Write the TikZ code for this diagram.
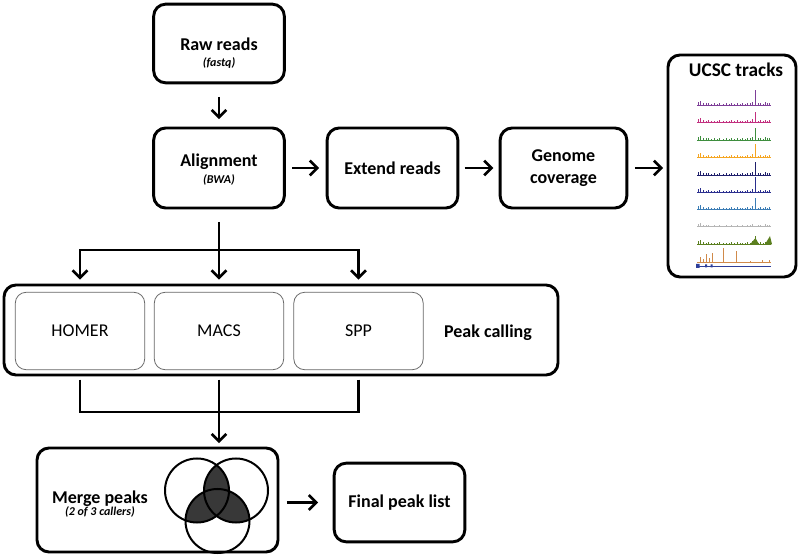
\documentclass[tikz,border=0pt]{standalone}
\usepackage{fontspec}
\setmainfont{Carlito}
\usetikzlibrary{arrows.meta}
\definecolor{trkA}{HTML}{7E3F98}
\definecolor{trkB}{HTML}{C2307F}
\definecolor{trkC}{HTML}{3E8E3E}
\definecolor{trkD}{HTML}{F5A623}
\definecolor{trkE}{HTML}{1F1F6B}
\definecolor{trkF}{HTML}{2B2F8F}
\definecolor{trkG}{HTML}{3C7DB5}
\definecolor{trkH}{HTML}{B5B5B5}
\definecolor{trkI}{HTML}{5B7F1F}
\definecolor{trkJ}{HTML}{D08A4A}
\definecolor{trkK}{HTML}{2E3F9A}
\newcommand{\subtxt}[1]{{\fontsize{9}{11}\selectfont\itshape #1}}
\tikzset{
	box/.style={draw=black, line width=2.2pt, rounded corners=9pt, minimum width=98pt, minimum height=59pt, align=center, font=\bfseries\fontsize{13.5}{16}\selectfont},
	tool/.style={draw=black!60, line width=0.6pt, rounded corners=8pt, minimum width=97pt, minimum height=58pt, font=\fontsize{13.5}{16}\selectfont},
	title/.style={black, align=center, font=\bfseries\fontsize{13.5}{16}\selectfont},
	flow/.style={draw=black, line width=2pt},
	arr/.style={flow, -{Straight Barb[length=5.5pt, width=11pt, line width=2pt]}},
	venn/.style={fill=black!78},
}
\begin{document}
\begin{tikzpicture}[x=0.75pt, y=-0.75pt]
	\useasboundingbox (0,0) rectangle (800,559);
	\node[box] (raw) at (219,43.5) {};
	\node[title, anchor=base] (rawtxt) at (219,66.7) {Raw reads\\[-4pt]\subtxt{(fastq)}};
	\node[box, minimum height=60pt] (align) at (219,168) {};
	\node[title, anchor=base] (aligntxt) at (219,183.5) {Alignment\\[-3.5pt]\subtxt{(BWA)}};
	\node[box, minimum height=60pt] (extend) at (392.5,168) {Extend reads};
	\node[box, minimum height=60pt, minimum width=95pt] (cover) at (563.5,168) {Genome\\coverage};
	\node[box, minimum width=96pt, minimum height=166.5pt] (ucsc) at (732,166) {};
	\node[title, anchor=base, font=\bfseries\fontsize{14.5}{17}\selectfont] (ucsctxt) at (736,76.7) {UCSC tracks};
	\draw[arr, shorten <=9.4pt, shorten >=5.6pt] (raw) -- (align);
	\draw[arr, shorten <=5pt, shorten >=5pt] (align) -- (extend);
	\draw[arr, shorten <=4pt, shorten >=4pt] (extend) -- (cover);
	\draw[arr, shorten <=5pt, shorten >=2.6pt] (cover.east) -- (cover.east -| ucsc.west);
	\foreach \c/\y/\h in {trkA/105/15, trkB/122.3/10, trkC/140/12, trkD/157.3/13, trkE/175/13, trkF/192.3/15, trkG/209.3/11, trkH/226.7/0, trkI/244.3/8} {
		\draw[\c, line width=0.7pt] (697,\y) -- (771,\y);
		\draw[\c, line width=0.5pt] \foreach \x/\d in {698/3,700/4,703/2,706/1.5,708/2,711/1,714/1.5,717/1,719/2,723/1,726/1.5,729/1,731/2,734/1,737/2,740/1,742/1.5,745/1,747/2,750/1.5,752/3,758/1.5,760/2,763/1,765/2.5,767/1.5,769/2} {(\x,\y) -- ++(0,-\d)};
		\draw[\c, line width=0.8pt] (755.5,\y) -- ++(0,-\h);
	}
	\fill[trkI] (765,244.3) -- (770,236) -- (772,244.3) -- cycle;
	\fill[trkI] (750,244.3) -- (755.5,238) -- (759,244.3) -- cycle;
	\draw[trkJ, line width=0.6pt] (697,262.7) -- (771,262.7);
	\draw[trkJ, line width=0.5pt] (700,262.7) -- ++(0,-6) (703,262.7) -- ++(0,-4) (706,262.7) -- ++(0,-9) (709,262.7) -- ++(0,-5) (712,262.7) -- ++(0,-10) (723,262.7) -- ++(0,-15) (736,262.7) -- ++(0,-12) (750,262.7) -- ++(0,-2) (762,262.7) -- ++(0,-3) (769,262.7) -- ++(0,-3);
	\draw[trkK, line width=0.6pt] (697,266) -- (771,266);
	\fill[trkK] (696,264) rectangle (699.5,268) (705,264.5) rectangle (707,267.5) (710.5,264.5) rectangle (712.5,267.5);
	\node[box, minimum width=415.5pt, minimum height=67.5pt] (calling) at (281,330) {};
	\node[tool] (homer) at (80,331) {HOMER};
	\node[tool] (macs) at (219,331) {MACS};
	\node[tool] (spp) at (358.5,331) {SPP};
	\node[title, anchor=base] (callingtxt) at (488,338) {Peak calling};
	\coordinate (split) at (219,250);
	\draw[flow, shorten <=9.4pt] (align) -- (split);
	\foreach \t in {homer,macs,spp}
		\draw[arr, shorten >=9.3pt] (split) -| (\t.north);
	\node[box, minimum width=180.75pt, minimum height=78pt] (merge) at (157.5,500) {};
	\node[title, anchor=base] (mergetxt) at (100,515) {Merge peaks\\[-7pt]\subtxt{(2 of 3 callers)}};
	\node[box] (final) at (399.5,502.5) {Final peak list};
	\coordinate (join) at (219,412);
	\draw[flow, shorten <=7.2pt] (homer.south) |- (join);
	\draw[flow, shorten <=7.2pt] (spp.south) |- (join);
	\draw[arr, shorten <=7.2pt, shorten >=2.6pt] (macs.south) -- (merge.north -| macs.south);
	\draw[arr, shorten <=5.6pt, shorten >=11pt] (final.west -| merge.east) -- (final.west);
	\coordinate (vA) at (197,490.5);
	\coordinate (vB) at (236,490.5);
	\coordinate (vC) at (217.5,521);
	\begin{scope}
		\clip (vA) circle[radius=24pt];
		\fill[venn] (vB) circle[radius=24pt];
		\fill[venn] (vC) circle[radius=24pt];
	\end{scope}
	\begin{scope}
		\clip (vB) circle[radius=24pt];
		\fill[venn] (vC) circle[radius=24pt];
	\end{scope}
	\foreach \v in {vA,vB,vC}
		\draw[black, line width=1.5pt] (\v) circle[radius=24pt];
\end{tikzpicture}
\end{document}
